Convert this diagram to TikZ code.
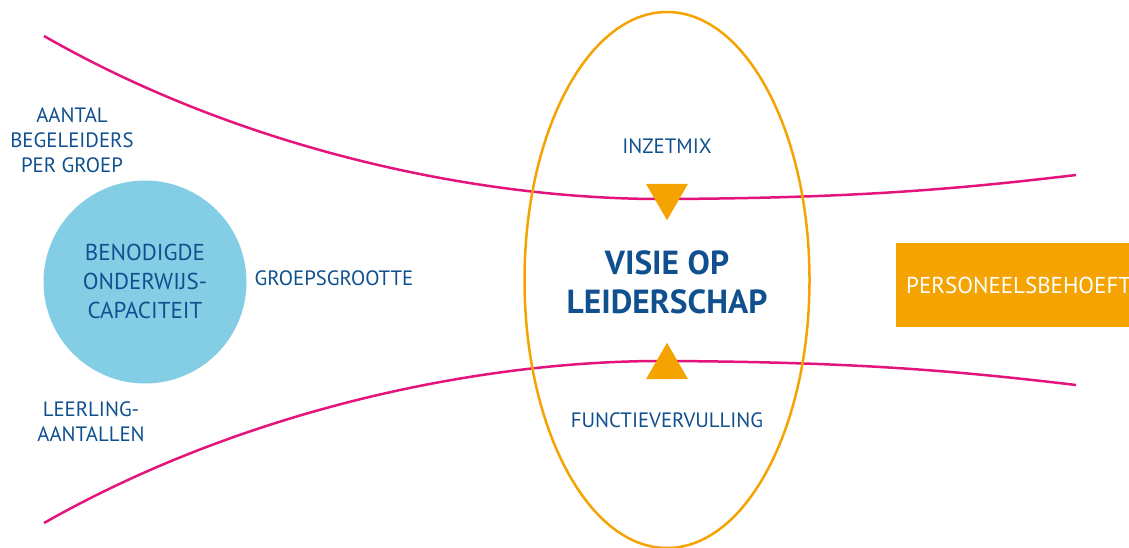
\documentclass[tikz,border=0pt]{standalone}
\usepackage{fontspec}
\setmainfont{PT Sans}
\usetikzlibrary{shapes.geometric}
\definecolor{navy}{HTML}{10508F}
\definecolor{skyfill}{HTML}{83CEE5}
\definecolor{amber}{HTML}{F4A300}
\definecolor{rose}{HTML}{E4147C}
\tikzset{
  label text/.style={text=navy, font=\fontsize{20.8}{25}\selectfont, align=center, inner sep=0pt},
  flow line/.style={draw=rose, line width=2.5pt},
  pointer/.style={regular polygon, regular polygon sides=3, fill=amber, minimum size=48.5pt, inner sep=0pt},
}
\begin{document}
\begin{tikzpicture}[x=1pt,y=-1pt]
\useasboundingbox (0,0) rectangle (1129,547);
\clip (0,0) rectangle (1129,547);

% funnel lines
\draw[flow line] (44,36) .. controls (243,150) and (480,200) .. (667,199)
                 .. controls (850,198) and (950,190) .. (1076,175);
\draw[flow line] (44,523) .. controls (243,410) and (480,360) .. (667,361)
                 .. controls (850,362) and (950,370) .. (1076,385);

% central vision ellipse
\node[ellipse, draw=amber, line width=2.5pt, minimum width=285pt, minimum height=536pt, inner sep=0pt] (vision) at (667,280) {};
\node[text=navy, font=\fontsize{33.4}{39}\selectfont\bfseries, align=center, inner sep=0pt] (title) at (667,282) {VISIE OP\\LEIDERSCHAP};

% pointers into the ellipse
\node[pointer, shape border rotate=180] (down) at (667,196) {};
\node[pointer] (up) at (667,367) {};

\node[label text] (mix) at (667,146) {INZETMIX};
\node[label text] (func) at (667,420) {FUNCTIEVERVULLING};

% capacity circle
\node[circle, fill=skyfill, minimum size=203pt, inner sep=0pt] (cap) at (145,282) {};
\node[text=navy, font=\fontsize{23}{29}\selectfont, align=center, inner sep=0pt] (captext) at (145,281) {BENODIGDE\\ONDERWIJS-\\CAPACITEIT};

\node[label text] (staff) at (72,140) {AANTAL\\BEGELEIDERS\\PER GROEP};
\node[label text] (size) at (334,278) {GROEPSGROOTTE};
\node[label text] (pupils) at (91,422) {LEERLING-\\AANTALLEN};

% personnel need box
\fill[amber] (896,243) rectangle (1140,327);
\node[anchor=west, text=white, font=\fontsize{23}{27}\selectfont, inner sep=0pt] (need) at (906,285) {PERSONEELSBEHOEFTE};
\end{tikzpicture}
\end{document}
